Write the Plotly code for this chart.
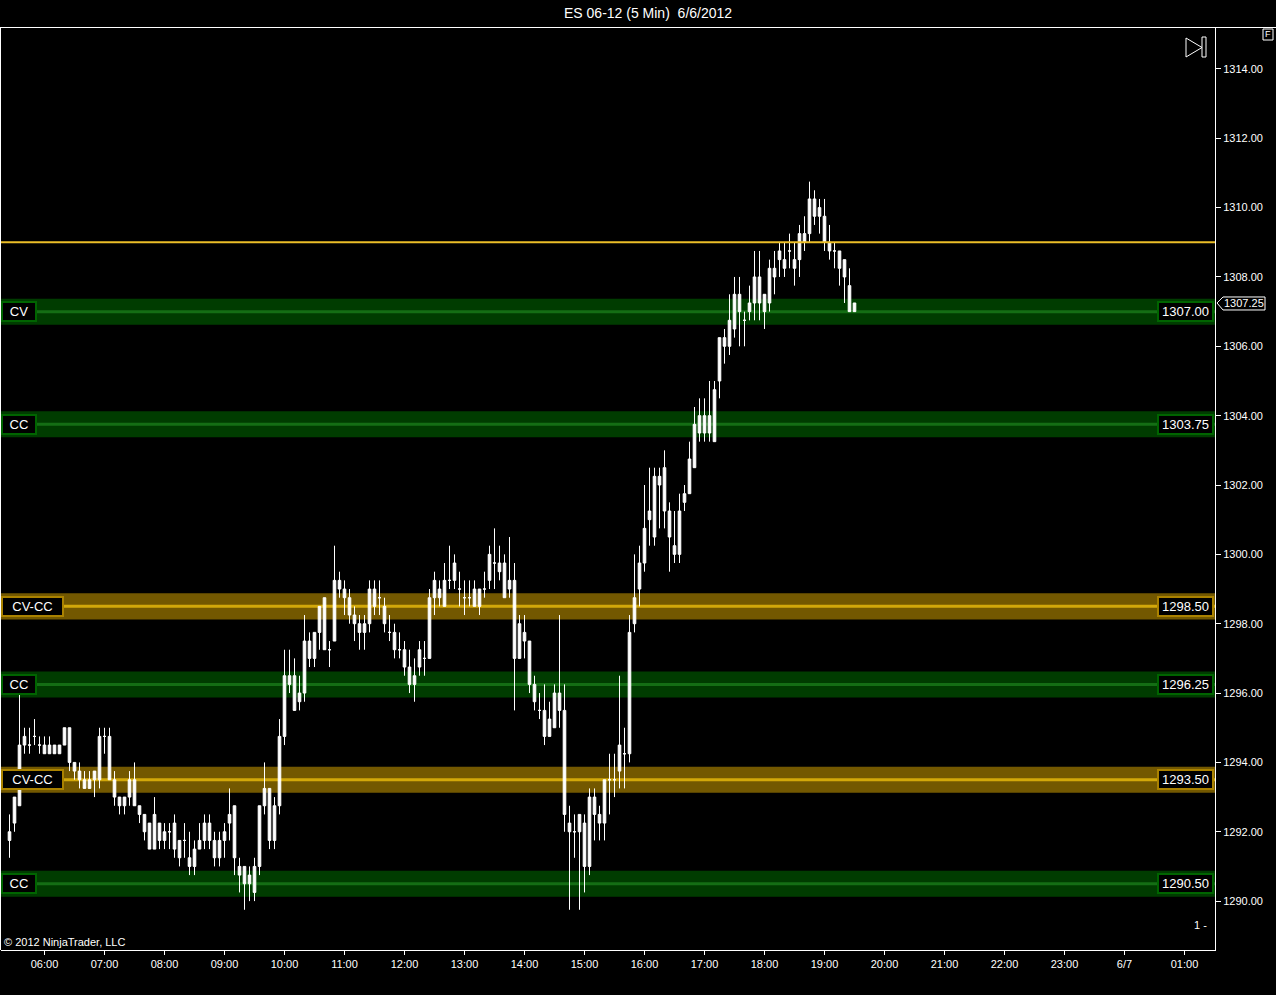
import plotly.graph_objects as go

# ---------------- data ----------------
start_minute = 325          # first bar: 05:25
bar_minutes = 5

opens = [1291.75, 1292.25, 1292.75, 1294.5, 1294.5, 1294.75, 1294.5, 1294.5, 1294.25, 1294.5,
         1294.25, 1294.5, 1295.0, 1294.0, 1293.75, 1293.5, 1293.25, 1293.5, 1293.5, 1294.75,
         1294.75, 1293.5, 1293.0, 1292.75, 1293.0, 1293.5, 1292.75, 1292.5, 1292.25, 1291.5,
         1292.25, 1291.75, 1292.0, 1292.25, 1291.75, 1291.75, 1291.25, 1291.0, 1291.5, 1291.75,
         1292.25, 1291.75, 1291.25, 1291.75, 1292.25, 1292.75, 1291.0, 1291.0, 1290.5, 1291.0,
         1291.0, 1292.75, 1293.25, 1291.75, 1292.75, 1294.75, 1296.5, 1296.5, 1295.75, 1296.0,
         1297.5, 1297.0, 1297.75, 1298.75, 1297.25, 1297.5, 1299.25, 1299.0, 1298.75, 1298.25,
         1298.0, 1297.75, 1298.0, 1299.0, 1298.75, 1298.5, 1297.75, 1297.75, 1297.25, 1297.25,
         1296.75, 1296.25, 1296.75, 1297.0, 1297.0, 1298.75, 1299.0, 1298.5, 1299.25, 1299.25,
         1299.0, 1298.75, 1298.75, 1299.0, 1298.5, 1299.0, 1299.25, 1299.75, 1299.75, 1299.75,
         1299.0, 1299.25, 1297.0, 1297.75, 1297.5, 1296.25, 1295.5, 1295.5, 1294.75, 1295.0,
         1296.0, 1295.5, 1292.25, 1292.0, 1292.0, 1292.25, 1291.0, 1293.0, 1292.5, 1292.25,
         1293.5, 1293.5, 1293.75, 1294.25, 1294.25, 1298.0, 1299.0, 1299.75, 1301.0, 1300.5,
         1302.25, 1302.5, 1301.25, 1300.25, 1300.0, 1301.5, 1301.75, 1302.5, 1304.0, 1303.5,
         1304.0, 1303.25, 1305.0, 1306.25, 1306.0, 1306.5, 1307.5, 1306.75, 1307.0, 1307.25,
         1308.0, 1307.0, 1307.25, 1308.25, 1308.5, 1308.5, 1308.75, 1308.5, 1308.5, 1309.25,
         1309.25, 1310.25, 1310.0, 1309.75, 1309.0, 1308.75, 1308.75, 1308.5, 1307.75, 1307.0]

highs = [1292.5, 1293.0, 1296.0, 1295.0, 1295.0, 1295.25, 1294.75, 1294.75, 1294.75, 1294.5,
         1294.5, 1295.0, 1295.0, 1294.0, 1294.0, 1293.75, 1293.75, 1293.75, 1295.0, 1295.0,
         1295.0, 1293.75, 1293.0, 1293.0, 1293.75, 1294.0, 1292.75, 1292.5, 1292.25, 1293.0,
         1292.25, 1292.25, 1292.25, 1292.5, 1291.75, 1292.25, 1292.0, 1291.75, 1292.25, 1292.5,
         1292.5, 1292.0, 1292.0, 1292.25, 1293.25, 1292.75, 1291.25, 1291.0, 1291.0, 1291.25,
         1292.75, 1294.0, 1293.25, 1293.0, 1295.25, 1297.25, 1297.25, 1297.0, 1296.5, 1298.25,
         1297.75, 1297.75, 1298.5, 1298.75, 1297.5, 1300.25, 1299.5, 1299.25, 1299.0, 1298.5,
         1298.25, 1298.25, 1299.25, 1299.25, 1299.25, 1298.75, 1298.25, 1298.0, 1297.75, 1297.5,
         1297.25, 1297.0, 1297.5, 1297.5, 1299.0, 1299.5, 1299.25, 1299.75, 1300.25, 1300.0,
         1299.5, 1299.25, 1299.25, 1299.25, 1299.0, 1299.5, 1300.25, 1300.75, 1300.25, 1300.0,
         1300.5, 1299.75, 1298.25, 1298.25, 1297.5, 1296.5, 1296.0, 1296.25, 1295.75, 1296.25,
         1298.25, 1296.25, 1292.75, 1292.5, 1292.5, 1292.5, 1293.25, 1293.25, 1292.75, 1293.5,
         1294.25, 1294.25, 1296.5, 1295.0, 1298.25, 1300.0, 1300.25, 1302.0, 1302.5, 1302.5,
         1302.5, 1303.0, 1301.5, 1301.25, 1301.75, 1302.0, 1303.25, 1304.25, 1304.5, 1304.5,
         1305.0, 1305.0, 1306.25, 1306.5, 1307.5, 1308.0, 1308.0, 1307.0, 1307.75, 1308.75,
         1308.75, 1307.5, 1308.5, 1308.75, 1309.0, 1309.0, 1309.25, 1309.0, 1309.5, 1309.75,
         1310.75, 1310.5, 1310.25, 1310.25, 1309.5, 1309.0, 1308.75, 1308.5, 1308.25, 1307.25]

lows = [1291.25, 1292.0, 1292.75, 1294.25, 1294.25, 1294.5, 1294.25, 1294.25, 1294.25, 1294.25,
        1294.25, 1294.5, 1293.75, 1293.5, 1293.25, 1293.25, 1293.25, 1293.0, 1293.25, 1294.25,
        1293.5, 1292.75, 1292.5, 1292.5, 1292.75, 1292.75, 1292.25, 1291.75, 1291.5, 1291.5,
        1291.5, 1291.5, 1291.5, 1291.25, 1291.0, 1291.25, 1290.75, 1290.75, 1291.5, 1291.5,
        1291.5, 1291.0, 1291.0, 1291.25, 1291.75, 1290.75, 1290.25, 1289.75, 1290.0, 1290.0,
        1290.75, 1292.5, 1291.5, 1291.5, 1292.5, 1294.5, 1296.0, 1295.5, 1295.5, 1295.75,
        1296.75, 1296.75, 1297.25, 1297.25, 1296.75, 1297.5, 1298.75, 1298.25, 1298.0, 1297.5,
        1297.25, 1297.25, 1297.75, 1298.25, 1298.25, 1297.75, 1297.5, 1297.0, 1297.0, 1296.5,
        1296.0, 1295.75, 1296.5, 1296.5, 1297.0, 1298.25, 1298.5, 1298.5, 1299.0, 1299.0,
        1298.5, 1298.25, 1298.5, 1298.5, 1298.25, 1298.75, 1299.0, 1299.0, 1299.25, 1298.75,
        1298.75, 1295.5, 1297.0, 1297.0, 1296.0, 1295.5, 1295.25, 1294.5, 1294.75, 1295.0,
        1295.0, 1292.0, 1289.75, 1291.25, 1289.75, 1290.25, 1290.75, 1291.75, 1291.75, 1291.75,
        1292.5, 1293.0, 1293.25, 1293.25, 1294.0, 1297.75, 1298.5, 1299.5, 1300.25, 1300.25,
        1300.75, 1300.75, 1299.5, 1299.75, 1299.75, 1301.25, 1301.75, 1302.5, 1303.25, 1303.25,
        1303.25, 1303.25, 1304.5, 1305.5, 1305.75, 1306.25, 1306.0, 1306.0, 1306.75, 1306.75,
        1306.75, 1306.5, 1307.0, 1307.5, 1308.0, 1308.0, 1308.25, 1307.75, 1308.0, 1308.75,
        1309.0, 1309.5, 1309.25, 1308.75, 1308.5, 1308.25, 1307.75, 1307.25, 1307.0, 1307.0]

closes = [1292.0, 1293.0, 1294.5, 1294.75, 1294.5, 1294.75, 1294.5, 1294.25, 1294.5, 1294.25,
          1294.5, 1295.0, 1294.0, 1293.75, 1293.5, 1293.25, 1293.5, 1293.75, 1294.75, 1294.75,
          1293.5, 1293.0, 1292.75, 1293.0, 1293.5, 1292.75, 1292.5, 1292.0, 1291.5, 1292.5,
          1291.75, 1292.0, 1292.0, 1291.5, 1291.25, 1291.75, 1291.0, 1291.5, 1291.75, 1292.25,
          1291.75, 1291.25, 1291.75, 1292.0, 1292.5, 1291.25, 1290.75, 1290.5, 1290.75, 1290.25,
          1292.75, 1293.25, 1291.75, 1292.75, 1294.75, 1296.5, 1296.25, 1295.5, 1296.0, 1297.5,
          1297.0, 1297.75, 1298.5, 1297.25, 1297.25, 1299.25, 1299.0, 1298.75, 1298.25, 1298.0,
          1297.75, 1298.0, 1299.0, 1298.5, 1298.75, 1298.0, 1297.75, 1297.25, 1297.25, 1296.75,
          1296.25, 1296.5, 1297.25, 1297.0, 1298.75, 1299.25, 1298.75, 1299.25, 1299.25, 1299.75,
          1299.0, 1298.75, 1298.75, 1298.5, 1299.0, 1299.0, 1300.0, 1299.75, 1299.5, 1298.75,
          1299.25, 1297.0, 1298.0, 1297.5, 1296.25, 1295.75, 1295.5, 1294.75, 1295.25, 1296.0,
          1295.5, 1292.5, 1292.0, 1292.0, 1292.5, 1291.0, 1293.0, 1292.5, 1292.25, 1293.5,
          1293.5, 1293.5, 1294.5, 1294.25, 1297.75, 1298.75, 1299.75, 1300.75, 1301.25, 1302.25,
          1302.0, 1301.25, 1300.5, 1300.0, 1301.25, 1301.75, 1302.75, 1303.75, 1303.5, 1304.0,
          1303.5, 1304.75, 1306.25, 1306.0, 1306.75, 1307.5, 1307.0, 1306.75, 1307.25, 1308.0,
          1307.25, 1307.5, 1308.25, 1308.0, 1308.75, 1308.25, 1308.75, 1308.25, 1309.25, 1309.0,
          1310.25, 1309.75, 1309.75, 1309.0, 1308.75, 1308.75, 1308.25, 1308.0, 1307.0, 1307.25]

band_levels = [1307.00, 1303.75, 1298.50, 1296.25, 1293.50, 1290.50]
band_labels = ["CV", "CC", "CV-CC", "CC", "CV-CC", "CC"]
band_kinds = ["green", "green", "gold", "green", "gold", "green"]

resistance_level = 1309.00
last_price = 1307.25

price_ticks = [1290, 1292, 1294, 1296, 1298, 1300, 1302, 1304, 1306, 1308, 1310, 1312, 1314]
time_tick_minutes = [360, 420, 480, 540, 600, 660, 720, 780, 840, 900, 960, 1020, 1080,
                     1140, 1200, 1260, 1320, 1380, 1440, 1500]
time_tick_labels = ["06:00", "07:00", "08:00", "09:00", "10:00", "11:00", "12:00", "13:00",
                    "14:00", "15:00", "16:00", "17:00", "18:00", "19:00", "20:00", "21:00",
                    "22:00", "23:00", "6/7", "01:00"]

title_text = "ES 06-12 (5 Min)\u00a0\u00a06/6/2012"

# ---------------- figure ----------------
W, H = 1276, 995
ML, MR, MT, MB = 1, 61, 28, 45
PW, PH = W - ML - MR, H - MT - MB
FONT = "Liberation Sans, Arial, sans-serif"
Y_RANGE = [1288.59, 1315.18]
X0 = 316.5

bar_x = [start_minute + bar_minutes * i for i in range(len(opens))]

def px(xp):
    return (xp - ML) / PW

def py(yp):
    return (H - MB - yp) / PH

def ypix(price):
    return MT + (Y_RANGE[1] - price) / (Y_RANGE[1] - Y_RANGE[0]) * PH

fig = go.Figure()
fig.add_trace(go.Candlestick(
    x=bar_x, open=opens, high=highs, low=lows, close=closes,
    increasing=dict(line=dict(color="white", width=1), fillcolor="white"),
    decreasing=dict(line=dict(color="white", width=1), fillcolor="white"),
    whiskerwidth=0, hoverinfo="skip", showlegend=False,
))

styles = {
    "green": dict(fill="rgb(0,60,0)", center="rgb(20,110,20)", border="rgb(0,100,0)"),
    "gold": dict(fill="rgb(115,88,0)", center="rgb(210,168,10)", border="rgb(170,130,0)"),
}
HALF = 0.375
shapes = []
annotations = []
for lvl, lab, kind in zip(band_levels, band_labels, band_kinds):
    st = styles[kind]
    shapes.append(dict(type="rect", xref="paper", yref="y", x0=0, x1=1,
                       y0=lvl - HALF, y1=lvl + HALF, fillcolor=st["fill"],
                       line=dict(width=0), layer="below"))
    shapes.append(dict(type="line", xref="paper", yref="y", x0=0, x1=1,
                       y0=lvl, y1=lvl, line=dict(color=st["center"], width=3), layer="below"))
    annotations.append(dict(xref="paper", yref="y", x=px(1), y=lvl, xanchor="left",
                            yanchor="middle", text=lab, showarrow=False,
                            width=9 * len(lab) + 12, align="center",
                            font=dict(family=FONT, size=13, color="white"),
                            bgcolor="black", bordercolor=st["border"], borderwidth=2,
                            borderpad=1))
    annotations.append(dict(xref="paper", yref="y", x=px(1214), y=lvl, xanchor="right",
                            yanchor="middle", text=f"{lvl:.2f}", showarrow=False,
                            width=51, align="center",
                            font=dict(family=FONT, size=13, color="white"),
                            bgcolor="black", bordercolor=st["border"], borderwidth=2,
                            borderpad=1))

# resistance line
shapes.append(dict(type="line", xref="paper", yref="y", x0=0, x1=1,
                   y0=resistance_level, y1=resistance_level,
                   line=dict(color="rgb(235,190,40)", width=2)))

# frame lines
shapes.append(dict(type="line", xref="paper", yref="paper", x0=px(0), x1=px(W),
                   y0=py(27.5), y1=py(27.5), line=dict(color="white", width=1)))
shapes.append(dict(type="line", xref="paper", yref="paper", x0=px(0.5), x1=px(0.5),
                   y0=py(27), y1=py(950), line=dict(color="white", width=1)))

# last price marker
ylp = ypix(last_price)
shapes.append(dict(type="path", xref="paper", yref="paper",
                   path=(f"M {px(1217)},{py(ylp)} L {px(1223)},{py(ylp-6)} L {px(1265)},{py(ylp-6)} "
                         f"L {px(1265)},{py(ylp+7)} L {px(1223)},{py(ylp+7)} Z"),
                   line=dict(color="white", width=1), fillcolor="black"))
annotations.append(dict(xref="paper", yref="y", x=px(1244), y=last_price, xanchor="center",
                        yanchor="middle", text=f"{last_price:.2f}", showarrow=False,
                        font=dict(family=FONT, size=11, color="white")))

# play-to-end icon
shapes.append(dict(type="path", xref="paper", yref="paper",
                   path=f"M {px(1186)},{py(38)} L {px(1202)},{py(47.5)} L {px(1186)},{py(57)} Z",
                   line=dict(color="white", width=1)))
shapes.append(dict(type="rect", xref="paper", yref="paper", x0=px(1202), x1=px(1206),
                   y0=py(37), y1=py(57), line=dict(color="white", width=1)))

# "F" box
shapes.append(dict(type="rect", xref="paper", yref="paper", x0=px(1263), x1=px(1273),
                   y0=py(29), y1=py(40), line=dict(color="white", width=1), fillcolor="black"))
annotations.append(dict(xref="paper", yref="paper", x=px(1268), y=py(34.5), xanchor="center",
                        yanchor="middle", text="F", showarrow=False,
                        font=dict(family=FONT, size=9, color="white")))

# title & misc text
annotations.append(dict(xref="paper", yref="paper", x=px(648), y=py(13), xanchor="center",
                        yanchor="middle", text=title_text, showarrow=False,
                        font=dict(family=FONT, size=14, color="white")))
annotations.append(dict(xref="paper", yref="paper", x=px(2), y=py(942), xanchor="left",
                        yanchor="middle", text="© 2012 NinjaTrader, LLC", showarrow=False,
                        font=dict(family=FONT, size=11, color="white")))
annotations.append(dict(xref="paper", yref="paper", x=px(1209), y=py(925), xanchor="right",
                        yanchor="middle", text="1 -", showarrow=False,
                        font=dict(family=FONT, size=11, color="white")))

fig.update_layout(
    width=W, height=H,
    margin=dict(l=ML, r=MR, t=MT, b=MB),
    paper_bgcolor="black", plot_bgcolor="black",
    showlegend=False, boxgap=0.25,
    shapes=shapes, annotations=annotations,
    font=dict(family=FONT, color="white", size=11),
    xaxis=dict(range=[X0, X0 + PW], tickmode="array", tickvals=time_tick_minutes,
               ticktext=time_tick_labels, ticks="outside", ticklen=4, tickcolor="white",
               showline=True, linecolor="white", linewidth=1, showgrid=False, zeroline=False,
               rangeslider=dict(visible=False), tickfont=dict(size=11, color="white"),
               fixedrange=True),
    yaxis=dict(range=Y_RANGE, side="right", tickmode="array", tickvals=price_ticks,
               ticktext=[f"{v:.2f}" for v in price_ticks], ticks="outside", ticklen=5,
               tickcolor="white", showline=True, linecolor="white", linewidth=1,
               showgrid=False, zeroline=False, tickfont=dict(size=11, color="white"),
               fixedrange=True),
)

fig.write_html("out.html", config={"displayModeBar": False},
               post_script="document.body.style.margin='0';document.body.style.background='black';")
